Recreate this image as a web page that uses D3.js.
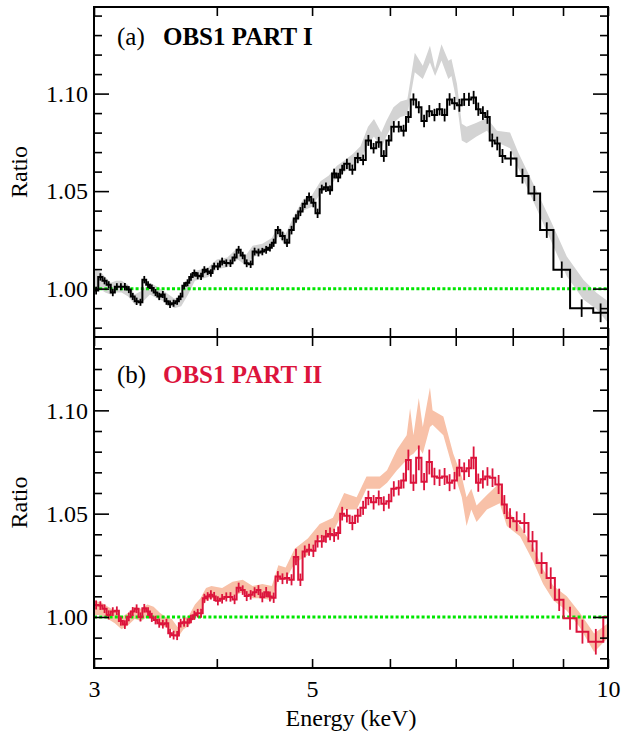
<!DOCTYPE html>
<html>
<head>
<meta charset="utf-8">
<script src="https://cdn.jsdelivr.net/npm/d3@7"></script>
<style>
  html, body { margin: 0; padding: 0; background: #fff; }
  svg { display: block; }
</style>
</head>
<body>
<svg id="chart" width="621" height="735"></svg>
<script>
// ---------- Panel (a): OBS1 PART I ----------
// bin edges in keV
const edgesA = [
  3.00, 3.03, 3.06, 3.09, 3.12, 3.15, 3.18, 3.21, 3.24, 3.27,
  3.30, 3.33, 3.36, 3.39, 3.42, 3.45, 3.48, 3.51, 3.54, 3.57,
  3.60, 3.63, 3.66, 3.69, 3.72, 3.75, 3.78, 3.81, 3.84, 3.87,
  3.90, 3.93, 3.96, 3.99, 4.03, 4.07, 4.11, 4.15, 4.19, 4.23,
  4.27, 4.31, 4.35, 4.39, 4.43, 4.47, 4.51, 4.55, 4.59, 4.64,
  4.69, 4.74, 4.79, 4.84, 4.89, 4.94, 4.99, 5.04, 5.09, 5.14,
  5.19, 5.24, 5.29, 5.34, 5.39, 5.46, 5.53, 5.60, 5.67, 5.74,
  5.81, 5.88, 5.95, 6.02, 6.09, 6.16, 6.23, 6.30, 6.38, 6.46,
  6.54, 6.62, 6.70, 6.78, 6.86, 6.94, 7.02, 7.10, 7.18, 7.26,
  7.34, 7.42, 7.50, 7.58, 7.67, 7.76, 7.86, 8.07, 8.30, 8.53,
  8.80, 9.15, 9.66, 10.0
];
const ratioA = [
  0.9990, 1.0060, 1.0040, 1.0020, 0.9980, 1.0010, 1.0010, 1.0010, 0.9995, 0.9960,
  0.9935, 0.9930, 1.0046, 1.0020, 1.0003, 0.9980, 0.9960, 0.9970, 0.9935, 0.9920,
  0.9925, 0.9935, 0.9960, 1.0015, 1.0030, 1.0060, 1.0080, 1.0066, 1.0063, 1.0097,
  1.0088, 1.0080, 1.0115,
  1.0114, 1.0139, 1.0131, 1.0130, 1.0160, 1.0199, 1.0170, 1.0130, 1.0125, 1.0190,
  1.0185, 1.0190, 1.0199, 1.0210, 1.0235,
  1.0300, 1.0270, 1.0235, 1.0300, 1.0360, 1.0395, 1.0435, 1.0470, 1.0440, 1.0386,
  1.0510, 1.0520, 1.0505, 1.0590, 1.0570, 1.0610,
  1.0640, 1.0610, 1.0670, 1.0660, 1.0760, 1.0720, 1.0750, 1.0680, 1.0760, 1.0830,
  1.0830, 1.0810, 1.0880,
  1.0970, 1.0930, 1.0860, 1.0910, 1.0890, 1.0920, 1.0890, 1.0970, 1.0950, 1.0940,
  1.0970, 1.0970, 1.0980, 1.0920, 1.0900, 1.0880,
  1.0760, 1.0744, 1.0680, 1.0667, 1.0577, 1.0488, 1.0300, 1.0097, 0.9900, 0.9876
];
const errA = [
  0.0020, 0.0019, 0.0018, 0.0018, 0.0019, 0.0018, 0.0018, 0.0019, 0.0018, 0.0018,
  0.0019, 0.0018, 0.0019, 0.0018, 0.0018, 0.0018, 0.0019, 0.0018, 0.0018, 0.0019,
  0.0018, 0.0018, 0.0019, 0.0018, 0.0018, 0.0019, 0.0018, 0.0018, 0.0019, 0.0018,
  0.0018, 0.0019, 0.0018,
  0.0019, 0.0020, 0.0019, 0.0019, 0.0020, 0.0020, 0.0019, 0.0020, 0.0019, 0.0020,
  0.0020, 0.0019, 0.0020, 0.0020, 0.0021,
  0.0021, 0.0022, 0.0021, 0.0022, 0.0022, 0.0023, 0.0022, 0.0023, 0.0023, 0.0024,
  0.0023, 0.0024, 0.0024, 0.0025, 0.0024, 0.0025,
  0.0026, 0.0026, 0.0027, 0.0027, 0.0028, 0.0027, 0.0028, 0.0030, 0.0028, 0.0029,
  0.0029, 0.0030, 0.0030,
  0.0031, 0.0031, 0.0032, 0.0031, 0.0032, 0.0032, 0.0033, 0.0032, 0.0033, 0.0033,
  0.0033, 0.0034, 0.0034, 0.0034, 0.0035, 0.0035,
  0.0035, 0.0035, 0.0036, 0.0037, 0.0038, 0.0039, 0.0040, 0.0042, 0.0045, 0.0048
];
// model ratio envelope (grey band)
const bandEnergyA = [
  3.00, 3.04, 3.08, 3.12, 3.16, 3.20, 3.25, 3.30, 3.36, 3.42,
  3.48, 3.55, 3.62, 3.68, 3.74, 3.80, 3.86, 3.92, 4.00, 4.10,
  4.20, 4.28, 4.35, 4.45, 4.55, 4.62, 4.70, 4.80, 4.90, 5.00,
  5.10, 5.20, 5.30, 5.40, 5.50, 5.60, 5.70, 5.78, 5.88, 5.95,
  6.05, 6.15, 6.25, 6.36, 6.48, 6.59, 6.67, 6.77, 6.88, 6.93,
  7.02, 7.10, 7.18, 7.35, 7.53, 7.71, 7.95, 8.10, 8.39, 8.74,
  9.08, 9.44, 9.74, 10.0
];
const bandLowA = [
  0.998, 1.000, 0.998, 0.997, 0.998, 0.998, 0.996, 0.992, 0.993, 0.997,
  0.995, 0.993, 0.990, 0.991, 0.997, 1.004, 1.005, 1.006, 1.010, 1.011,
  1.015, 1.012, 1.016, 1.018, 1.021, 1.027, 1.022, 1.032, 1.040, 1.042,
  1.049, 1.052, 1.057, 1.060, 1.063, 1.066, 1.074, 1.078, 1.072, 1.078,
  1.085, 1.088, 1.089, 1.111, 1.1075, 1.116, 1.109, 1.117, 1.1075, 1.109,
  1.095, 1.076, 1.0745, 1.078, 1.081, 1.075, 1.072, 1.062, 1.045, 1.025,
  1.0063, 0.9944, 0.9893, 0.9825
];
const bandHighA = [
  1.010, 1.009, 1.006, 1.003, 1.004, 1.004, 1.002, 0.997, 0.999, 1.003,
  1.001, 0.998, 0.995, 0.996, 1.003, 1.009, 1.010, 1.011, 1.015, 1.016,
  1.021, 1.017, 1.022, 1.023, 1.026, 1.032, 1.028, 1.038, 1.046, 1.048,
  1.055, 1.058, 1.063, 1.066, 1.069, 1.073, 1.083, 1.087, 1.080, 1.086,
  1.093, 1.096, 1.097, 1.121, 1.1143, 1.1245, 1.1126, 1.1253, 1.1168, 1.1177,
  1.105, 1.0845, 1.083, 1.085, 1.0875, 1.081, 1.080, 1.070, 1.054, 1.035,
  1.0165, 1.0046, 0.9978, 0.9935
];

// ---------- Panel (b): OBS1 PART II ----------
const edgesB = [
  3.00, 3.03, 3.06, 3.09, 3.12, 3.15, 3.18, 3.21, 3.24, 3.27,
  3.30, 3.33, 3.36, 3.39, 3.42, 3.45, 3.48, 3.51, 3.54, 3.57,
  3.60, 3.63, 3.66, 3.69, 3.72, 3.75, 3.78, 3.81, 3.84, 3.87,
  3.90, 3.93, 3.96, 3.99, 4.03, 4.07, 4.11, 4.15, 4.19, 4.23,
  4.27, 4.31, 4.35, 4.39, 4.43, 4.47, 4.51, 4.55, 4.59, 4.64,
  4.69, 4.74, 4.79, 4.84, 4.89, 4.94, 4.99, 5.04, 5.09, 5.14,
  5.19, 5.24, 5.29, 5.34, 5.39, 5.46, 5.53, 5.60, 5.67, 5.74,
  5.81, 5.88, 5.95, 6.02, 6.09, 6.16, 6.23, 6.30, 6.38, 6.46,
  6.54, 6.62, 6.70, 6.78, 6.86, 6.94, 7.02, 7.10, 7.18, 7.26,
  7.34, 7.42, 7.50, 7.58, 7.68, 7.80, 7.89, 8.01, 8.14, 8.30,
  8.46, 8.66, 8.83, 9.01, 9.29, 9.55, 9.89, 10.0
];
const ratioB = [
  1.0058, 1.0055, 1.0040, 1.0010, 1.0026, 1.0030, 0.9980, 0.9963, 1.0000, 1.0026,
  1.0040, 1.0000, 1.0042, 1.0026, 0.9998, 0.9985, 0.9970, 0.9965, 0.9970, 0.9921,
  0.9912, 0.9910, 0.9970, 0.9975, 0.9972, 0.9990, 1.0008, 1.0018, 1.0018, 1.0090,
  1.0099, 1.0107, 1.0099,
  1.0078, 1.0088, 1.0097, 1.0097, 1.0085, 1.0142, 1.0130, 1.0101, 1.0107, 1.0120,
  1.0130, 1.0095, 1.0120, 1.0099, 1.0093,
  1.0196, 1.0185, 1.0188, 1.0180, 1.0290, 1.0180, 1.0317, 1.0325, 1.0320, 1.0366,
  1.0366, 1.0390, 1.0402, 1.0395, 1.0406, 1.0500,
  1.0490, 1.0455, 1.0490, 1.0528, 1.0576, 1.0555, 1.0576, 1.0548, 1.0560, 1.0620,
  1.0625, 1.0660, 1.0760,
  1.0650, 1.0770, 1.0655, 1.0750, 1.0680, 1.0674, 1.0680, 1.0650, 1.0660, 1.0722,
  1.0705, 1.0720, 1.0770, 1.0650, 1.0666, 1.0680,
  1.0674, 1.0641, 1.0544, 1.0479, 1.0463, 1.0455, 1.0366, 1.0261, 1.0188, 1.0083,
  0.9994, 0.9929, 0.9880, 1.0000
];
const errB = [
  0.0022, 0.0021, 0.0021, 0.0022, 0.0021, 0.0021, 0.0022, 0.0021, 0.0021, 0.0022,
  0.0021, 0.0022, 0.0021, 0.0021, 0.0022, 0.0021, 0.0022, 0.0021, 0.0021, 0.0022,
  0.0021, 0.0022, 0.0021, 0.0022, 0.0021, 0.0021, 0.0022, 0.0021, 0.0022, 0.0022,
  0.0021, 0.0022, 0.0022,
  0.0022, 0.0023, 0.0022, 0.0023, 0.0023, 0.0024, 0.0023, 0.0024, 0.0023, 0.0024,
  0.0024, 0.0024, 0.0025, 0.0024, 0.0025,
  0.0026, 0.0026, 0.0027, 0.0027, 0.0040, 0.0030, 0.0029, 0.0029, 0.0030, 0.0030,
  0.0031, 0.0031, 0.0031, 0.0032, 0.0032, 0.0033,
  0.0033, 0.0035, 0.0034, 0.0034, 0.0035, 0.0035, 0.0036, 0.0036, 0.0036, 0.0037,
  0.0037, 0.0038, 0.0050,
  0.0040, 0.0060, 0.0042, 0.0060, 0.0042, 0.0040, 0.0041, 0.0041, 0.0042, 0.0042,
  0.0043, 0.0043, 0.0055, 0.0044, 0.0044, 0.0045,
  0.0045, 0.0046, 0.0046, 0.0047, 0.0048, 0.0048, 0.0050, 0.0052, 0.0052, 0.0054,
  0.0056, 0.0058, 0.0062, 0.0000
];
// model ratio envelope (salmon band)
const bandEnergyB = [
  3.00, 3.05, 3.10, 3.15, 3.20, 3.25, 3.30, 3.35, 3.40, 3.45,
  3.50, 3.55, 3.60, 3.65, 3.70, 3.75, 3.80, 3.85, 3.90, 3.95,
  4.05, 4.15, 4.25, 4.35, 4.45, 4.55, 4.62, 4.70, 4.80, 4.95,
  5.09, 5.25, 5.39, 5.55, 5.68, 5.86, 5.96, 6.10, 6.24, 6.29,
  6.34, 6.42, 6.48, 6.59, 6.63, 6.80, 6.96, 7.10, 7.18, 7.26,
  7.35, 7.53, 7.76, 7.89, 8.14, 8.39, 8.59, 8.80, 9.08, 9.36,
  9.68, 10.0
];
const bandLowB = [
  1.001, 1.001, 0.999, 0.997, 0.994, 0.996, 0.999, 0.998, 1.000, 0.999,
  0.996, 0.995, 0.994, 0.990, 0.994, 0.996, 1.000, 1.003, 1.008, 1.009,
  1.008, 1.010, 1.012, 1.009, 1.009, 1.008, 1.018, 1.018, 1.026, 1.030,
  1.038, 1.041, 1.052, 1.052, 1.062, 1.062, 1.065, 1.071, 1.076, 1.078,
  1.079, 1.082, 1.079, 1.092, 1.093, 1.088, 1.071, 1.058, 1.044, 1.052,
  1.046, 1.052, 1.055, 1.044, 1.039, 1.027, 1.016, 1.008, 1.003, 0.995,
  0.983, 0.990
];
const bandHighB = [
  1.008, 1.007, 1.005, 1.003, 1.000, 1.002, 1.005, 1.004, 1.006, 1.005,
  1.002, 1.000, 0.999, 0.995, 0.999, 1.001, 1.006, 1.009, 1.014, 1.015,
  1.014, 1.017, 1.018, 1.015, 1.016, 1.015, 1.025, 1.024, 1.033, 1.038,
  1.045, 1.048, 1.060, 1.058, 1.068, 1.068, 1.071, 1.081, 1.088, 1.101,
  1.088, 1.106, 1.092, 1.111, 1.100, 1.097, 1.079, 1.068, 1.058, 1.062,
  1.054, 1.059, 1.065, 1.052, 1.044, 1.034, 1.023, 1.015, 1.010, 1.002,
  0.992, 0.997
];

// ---------- axis ticks ----------
const energyTicks = [3, 4, 5, 6, 7, 8, 9, 10];
const energyLabels = [3, 5, 10];
const ratioMajorTicks = [1.00, 1.05, 1.10];
const ratioMinorTicksA = [0.98, 0.99, 1.01, 1.02, 1.03, 1.04, 1.06, 1.07, 1.08, 1.09, 1.11, 1.12, 1.13, 1.14];
const ratioMinorTicksB = [0.98, 0.99, 1.01, 1.02, 1.03, 1.04, 1.06, 1.07, 1.08, 1.09, 1.11, 1.12, 1.13];

// ---------- layout ----------
const FONT = '"Liberation Serif", Tinos, "Times New Roman", Times, "Nimbus Roman", "DejaVu Serif", serif';
const svg = d3.select("#chart");
const plotLeft = 94, plotRight = 608;
const x = d3.scaleLog().domain([3, 10]).range([plotLeft, plotRight]);

const panels = [
  {
    id: "a", top: 7, bottom: 337, yDomain: [0.9752, 1.1444],
    edges: edgesA, ratio: ratioA, err: errA,
    bandE: bandEnergyA, bandLo: bandLowA, bandHi: bandHighA,
    minor: ratioMinorTicksA,
    lineColor: "#000000", bandColor: "#d3d3d3",
    tag: "(a)", name: "OBS1 PART I", nameColor: "#000000", titleY: 45,
    showEnergyLabels: false
  },
  {
    id: "b", top: 337, bottom: 668, yDomain: [0.9753, 1.1355],
    edges: edgesB, ratio: ratioB, err: errB,
    bandE: bandEnergyB, bandLo: bandLowB, bandHi: bandHighB,
    minor: ratioMinorTicksB,
    lineColor: "#dc143c", bandColor: "#f8c1a8",
    tag: "(b)", name: "OBS1 PART II", nameColor: "#dc143c", titleY: 383,
    showEnergyLabels: true
  }
];

const defs = svg.append("defs");

panels.forEach(p => {
  const y = d3.scaleLinear().domain(p.yDomain).range([p.bottom, p.top]);
  const g = svg.append("g").attr("class", "panel-" + p.id);

  defs.append("clipPath").attr("id", "clip-" + p.id)
    .append("rect")
    .attr("x", plotLeft).attr("y", p.top)
    .attr("width", plotRight - plotLeft).attr("height", p.bottom - p.top);

  const plot = g.append("g").attr("clip-path", `url(#clip-${p.id})`);

  // model envelope
  const band = p.bandE.map((e, i) => ({ e, lo: p.bandLo[i], hi: p.bandHi[i] }));
  plot.append("path")
    .datum(band)
    .attr("fill", p.bandColor)
    .attr("stroke", "none")
    .attr("d", d3.area().x(d => x(d.e)).y0(d => y(d.lo)).y1(d => y(d.hi)));

  // unity reference line
  plot.append("line")
    .attr("x1", x(3)).attr("x2", x(10))
    .attr("y1", y(1)).attr("y2", y(1))
    .attr("stroke", "#00e600")
    .attr("stroke-width", 3)
    .attr("stroke-dasharray", "3,2.2");

  // binned ratio as a histogram step line
  const steps = [];
  p.ratio.forEach((v, i) => {
    steps.push([p.edges[i], v]);
    steps.push([p.edges[i + 1], v]);
  });
  plot.append("path")
    .datum(steps)
    .attr("fill", "none")
    .attr("stroke", p.lineColor)
    .attr("stroke-width", 2)
    .attr("stroke-linejoin", "miter")
    .attr("d", d3.line().x(d => x(d[0])).y(d => y(d[1])));

  // 1-sigma error bars at bin centres
  const bars = p.ratio.map((v, i) => ({
    e: Math.sqrt(p.edges[i] * p.edges[i + 1]), v, s: p.err[i]
  })).filter(d => d.s > 0);
  plot.append("g").selectAll("line")
    .data(bars)
    .join("line")
    .attr("x1", d => x(d.e)).attr("x2", d => x(d.e))
    .attr("y1", d => y(d.v - d.s)).attr("y2", d => y(d.v + d.s))
    .attr("stroke", p.lineColor)
    .attr("stroke-width", 1.8);

  // axes: ticks point inward
  const tickStyle = sel => {
    sel.attr("font-family", FONT).attr("font-size", 24);
    sel.select(".domain").remove();
    sel.selectAll(".tick line").attr("stroke", "#000").attr("stroke-width", 1.6);
    sel.selectAll(".tick text")
      .attr("fill", "#000")
      .attr("font-family", FONT)
      .attr("font-size", 24);
  };

  g.append("g").attr("transform", `translate(${plotLeft},0)`)
    .call(d3.axisLeft(y).tickValues(ratioMajorTicks).tickSize(-15).tickPadding(6)
      .tickFormat(d3.format(".2f")))
    .call(tickStyle);
  g.append("g").attr("transform", `translate(${plotLeft},0)`)
    .call(d3.axisLeft(y).tickValues(p.minor).tickSize(-8).tickFormat(""))
    .call(tickStyle);
  g.append("g").attr("transform", `translate(${plotRight},0)`)
    .call(d3.axisRight(y).tickValues(ratioMajorTicks).tickSize(-15).tickFormat(""))
    .call(tickStyle);
  g.append("g").attr("transform", `translate(${plotRight},0)`)
    .call(d3.axisRight(y).tickValues(p.minor).tickSize(-8).tickFormat(""))
    .call(tickStyle);
  g.append("g").attr("transform", `translate(0,${p.top})`)
    .call(d3.axisTop(x).tickValues(energyTicks).tickSize(-9).tickFormat(""))
    .call(tickStyle);
  g.append("g").attr("transform", `translate(0,${p.bottom})`)
    .call(d3.axisBottom(x).tickValues(energyTicks).tickSize(-9).tickPadding(12)
      .tickFormat(d => p.showEnergyLabels && energyLabels.includes(d) ? String(d) : ""))
    .call(tickStyle);

  // frame
  g.append("rect")
    .attr("x", plotLeft).attr("y", p.top)
    .attr("width", plotRight - plotLeft).attr("height", p.bottom - p.top)
    .attr("fill", "none").attr("stroke", "#000").attr("stroke-width", 2);

  // y-axis title
  g.append("text")
    .attr("transform", `translate(27,${(p.top + p.bottom) / 2}) rotate(-90)`)
    .attr("text-anchor", "middle")
    .attr("font-family", FONT).attr("font-size", 24)
    .text("Ratio");

  // panel title
  g.append("text")
    .attr("x", 117).attr("y", p.titleY)
    .attr("font-family", FONT).attr("font-size", 25)
    .attr("fill", "#000")
    .text(p.tag);
  g.append("text")
    .attr("x", 163).attr("y", p.titleY)
    .attr("font-family", FONT).attr("font-size", 25)
    .attr("font-weight", "bold")
    .attr("fill", p.nameColor)
    .text(p.name);
});

// x-axis title
svg.append("text")
  .attr("x", (plotLeft + plotRight) / 2).attr("y", 726)
  .attr("text-anchor", "middle")
  .attr("font-family", FONT).attr("font-size", 24)
  .text("Energy (keV)");
</script>
</body>
</html>
